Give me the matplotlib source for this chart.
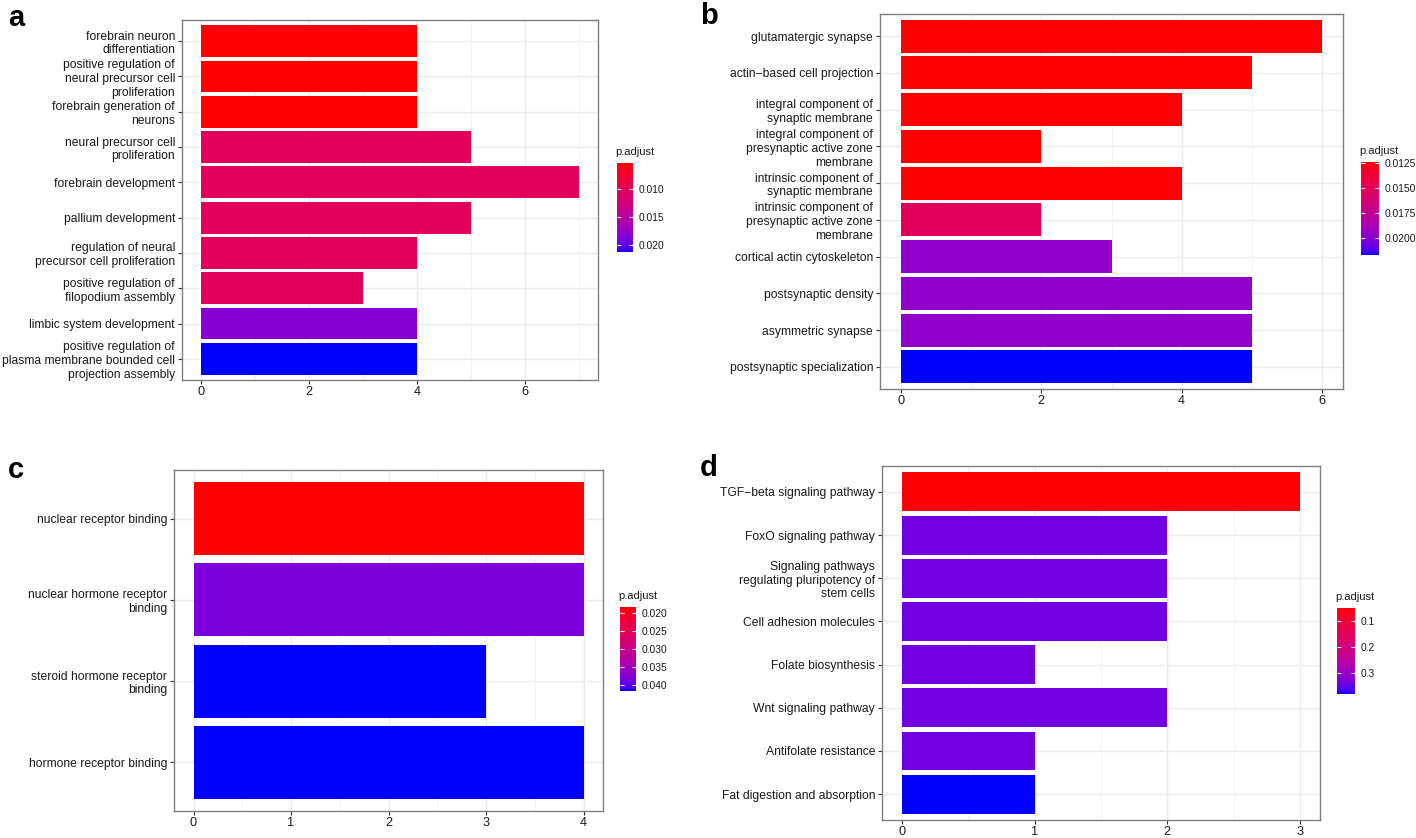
import matplotlib.pyplot as plt
import numpy as np
from matplotlib.colors import ListedColormap, Normalize
from matplotlib.ticker import MultipleLocator

plt.rcParams["font.family"] = ["Liberation Sans", "DejaVu Sans"]

# panel a: GO biological process
A_TERMS = [
    "forebrain neuron\ndifferentiation",
    "positive regulation of\nneural precursor cell\nproliferation",
    "forebrain generation of\nneurons",
    "neural precursor cell\nproliferation",
    "forebrain development",
    "pallium development",
    "regulation of neural\nprecursor cell proliferation",
    "positive regulation of\nfilopodium assembly",
    "limbic system development",
    "positive regulation of\nplasma membrane bounded cell\nprojection assembly",
]
A_COUNT = [4, 4, 4, 5, 7, 5, 4, 3, 4, 4]
A_PADJ = [0.0054, 0.0054, 0.0054, 0.0102, 0.0102, 0.0102, 0.0102, 0.0102, 0.0184, 0.0213]

# panel b: GO cellular component
B_TERMS = [
    "glutamatergic synapse",
    "actin\u2212based cell projection",
    "integral component of\nsynaptic membrane",
    "integral component of\npresynaptic active zone\nmembrane",
    "intrinsic component of\nsynaptic membrane",
    "intrinsic component of\npresynaptic active zone\nmembrane",
    "cortical actin cytoskeleton",
    "postsynaptic density",
    "asymmetric synapse",
    "postsynaptic specialization",
]
B_COUNT = [6, 5, 4, 2, 4, 2, 3, 5, 5, 5]
B_PADJ = [0.0124, 0.0124, 0.0124, 0.0124, 0.0124, 0.0152, 0.0197, 0.0197, 0.0197, 0.0217]

# panel c: GO molecular function
C_TERMS = [
    "nuclear receptor binding",
    "nuclear hormone receptor\nbinding",
    "steroid hormone receptor\nbinding",
    "hormone receptor binding",
]
C_COUNT = [4, 4, 3, 4]
C_PADJ = [0.0183, 0.0382, 0.0417, 0.0417]

# panel d: KEGG
D_TERMS = [
    "TGF\u2212beta signaling pathway",
    "FoxO signaling pathway",
    "Signaling pathways\nregulating pluripotency of\nstem cells",
    "Cell adhesion molecules",
    "Folate biosynthesis",
    "Wnt signaling pathway",
    "Antifolate resistance",
    "Fat digestion and absorption",
]
D_COUNT = [3, 2, 2, 2, 1, 2, 1, 1]
D_PADJ = [0.05, 0.34, 0.34, 0.34, 0.34, 0.34, 0.34, 0.38]

FIG_W, FIG_H = 1416, 838


def srgb_to_lab(rgb):
    c = np.asarray(rgb, dtype=float)
    lin = np.where(c <= 0.04045, c / 12.92, ((c + 0.055) / 1.055) ** 2.4)
    m = np.array([[0.4124, 0.3576, 0.1805],
                  [0.2126, 0.7152, 0.0722],
                  [0.0193, 0.1192, 0.9505]])
    xyz = m @ lin / np.array([0.95047, 1.0, 1.08883])
    f = np.where(xyz > 0.008856, np.cbrt(xyz), 7.787 * xyz + 16 / 116)
    return np.array([116 * f[1] - 16, 500 * (f[0] - f[1]), 200 * (f[1] - f[2])])


def lab_to_srgb(lab):
    L, a, b = lab
    fy = (L + 16) / 116
    f = np.array([fy + a / 500, fy, fy - b / 200])
    xyz = np.where(f ** 3 > 0.008856, f ** 3, (f - 16 / 116) / 7.787)
    xyz = xyz * np.array([0.95047, 1.0, 1.08883])
    minv = np.array([[3.2406, -1.5372, -0.4986],
                     [-0.9689, 1.8758, 0.0415],
                     [0.0557, -0.2040, 1.0570]])
    lin = np.clip(minv @ xyz, 0, 1)
    c = np.where(lin <= 0.0031308, 12.92 * lin, 1.055 * lin ** (1 / 2.4) - 0.055)
    return np.clip(c, 0, 1)


# ggplot-like red -> blue gradient interpolated in Lab space
lab_lo = srgb_to_lab([1, 0, 0])
lab_hi = srgb_to_lab([0, 0, 1])
CMAP = ListedColormap([lab_to_srgb(lab_lo + t * (lab_hi - lab_lo)) for t in np.linspace(0, 1, 256)])


def px_axes(fig, left, top, right, bottom):
    return fig.add_axes([left / FIG_W, 1 - bottom / FIG_H,
                         (right - left) / FIG_W, (bottom - top) / FIG_H])


def draw_panel(fig, box, cbox, terms, counts, padj, xmax, xmajor, cticks, cfmt, letter, lpos):
    ax = px_axes(fig, *box)
    n = len(terms)
    ypos = np.arange(n)[::-1]
    norm = Normalize(min(padj), max(padj))
    colors = [CMAP(norm(p)) for p in padj]
    ax.barh(ypos, counts, height=0.9, color=colors, linewidth=0, zorder=3)

    ax.set_xlim(-0.05 * xmax, 1.05 * xmax)
    ax.set_ylim(-0.6, n - 0.4)
    ax.xaxis.set_major_locator(MultipleLocator(xmajor))
    ax.xaxis.set_minor_locator(MultipleLocator(xmajor / 2))
    ax.set_yticks(ypos)
    ax.set_yticklabels(terms, fontsize=8.7, color="#1a1a1a")
    ax.tick_params(axis="x", labelsize=9.2, labelcolor="#1a1a1a", length=3, color="#333333", pad=1.5)
    ax.tick_params(axis="y", length=3, color="#333333", pad=2)
    ax.tick_params(axis="x", which="minor", length=0)
    ax.grid(which="major", color="#ebebeb", linewidth=1.0, zorder=0)
    ax.grid(which="minor", axis="x", color="#f2f2f2", linewidth=0.6, zorder=0)
    ax.set_axisbelow(True)
    for sp in ax.spines.values():
        sp.set_color("#7f7f7f")
        sp.set_linewidth(1.0)

    cax = px_axes(fig, *cbox)
    grad = np.linspace(min(padj), max(padj), 256).reshape(-1, 1)
    cax.imshow(grad, aspect="auto", cmap=CMAP, norm=norm,
               extent=[0, 1, max(padj), min(padj)], origin="upper")
    cax.set_ylim(max(padj), min(padj))
    cax.set_xticks([])
    cax.yaxis.tick_right()
    cax.set_yticks(cticks)
    cax.set_yticklabels([cfmt.format(t) for t in cticks], fontsize=7.4, color="#1a1a1a")
    cax.tick_params(axis="y", direction="in", length=3, color="white", width=0.8,
                    left=True, right=True, pad=4)
    for sp in cax.spines.values():
        sp.set_visible(False)
    fig.text((cbox[0] - 2) / FIG_W, 1 - (cbox[1] - 6) / FIG_H, "p.adjust",
             fontsize=8, color="#1a1a1a", ha="left", va="bottom")

    fig.text(lpos[0] / FIG_W, 1 - lpos[1] / FIG_H, letter, fontsize=21,
             fontweight="bold", ha="left", va="center")
    return ax


fig = plt.figure(figsize=(FIG_W / 100, FIG_H / 100), dpi=100)

draw_panel(fig, (182, 20, 598, 380), (617, 163, 633, 252), A_TERMS, A_COUNT, A_PADJ,
           7, 2, [0.010, 0.015, 0.020], "{:.3f}", "a", (8, 18))
draw_panel(fig, (880, 14, 1343, 389), (1361, 162, 1379, 255), B_TERMS, B_COUNT, B_PADJ,
           6, 2, [0.0125, 0.0150, 0.0175, 0.0200], "{:.4f}", "b", (700, 16))
draw_panel(fig, (174, 470, 603, 811), (620, 607, 636, 691), C_TERMS, C_COUNT, C_PADJ,
           4, 1, [0.020, 0.025, 0.030, 0.035, 0.040], "{:.3f}", "c", (8, 470))
draw_panel(fig, (882, 466, 1320, 820), (1337, 608, 1355, 694), D_TERMS, D_COUNT, D_PADJ,
           3, 1, [0.1, 0.2, 0.3], "{:.1f}", "d", (700, 468))

fig.savefig("out.png", dpi=100)
